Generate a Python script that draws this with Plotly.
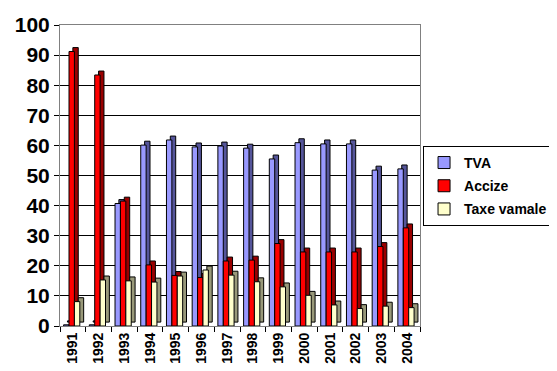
import plotly.graph_objects as go

years = ["1991", "1992", "1993", "1994", "1995", "1996", "1997", "1998",
         "1999", "2000", "2001", "2002", "2003", "2004"]
tva = [0.4, 0.4, 40.7, 60.1, 61.8, 59.5, 59.8, 59.1, 55.5, 60.9, 60.5, 60.5, 51.8, 52.2]
accize = [91.2, 83.4, 41.5, 20.3, 16.8, 16.1, 21.6, 21.9, 27.4, 24.6, 24.6, 24.6, 26.4, 32.6]
taxe = [8.1, 15.3, 15.0, 14.6, 16.6, 18.6, 16.9, 14.7, 13.0, 10.2, 7.0, 5.8, 6.6, 6.1]

names = ["TVA", "Accize", "Taxe vamale"]
front_colors = ["#9999FF", "#FF0000", "#FFFFCC"]
side_colors = ["#55559A", "#990000", "#99997A"]
series = [tva, accize, taxe]

bw = 0.21
offsets = [-0.36, -0.15, 0.06]
dx = 0.15
dy = 1.3

fig = go.Figure()
for vals, name, fc, sc, off in zip(series, names, front_colors, side_colors, offsets):
    fig.add_trace(go.Bar(
        x=years, y=vals, base=dy, width=bw, offset=off + dx,
        marker=dict(color=sc, line=dict(color="black", width=1)),
        showlegend=False, hoverinfo="skip"))
    fig.add_trace(go.Bar(
        x=years, y=vals, name=name, width=bw, offset=off, legendgroup=name,
        marker=dict(color=fc, line=dict(color="black", width=1))))

# page has an 8px body margin, so the figure is drawn 8px in from the top-left
fig.update_layout(
    barmode="overlay",
    width=549, height=363,
    margin=dict(l=52, r=137, t=17, b=45),
    paper_bgcolor="white", plot_bgcolor="white",
    font=dict(family="Liberation Sans", color="black"),
    showlegend=True,
    legend=dict(
        xref="container", yref="container",
        x=0.756, y=0.62, xanchor="left", yanchor="top",
        bordercolor="black", borderwidth=1,
        font=dict(size=14, family="Liberation Sans", weight="bold"),
        itemwidth=30, tracegroupgap=2,
    ),
    xaxis=dict(
        type="category",
        automargin=False,
        tickangle=-90,
        tickfont=dict(size=14, family="Liberation Sans", weight="bold"),
        ticks="outside", tickson="boundaries", ticklen=5, tickcolor="black",
        showline=True, linecolor="#808080", mirror=True,
        showgrid=False,
        range=[-0.5, 13.5],
    ),
    yaxis=dict(
        automargin=False,
        range=[0, 100], dtick=10,
        tickfont=dict(size=21, family="Liberation Sans", weight="bold"),
        ticks="outside", ticklen=5, tickcolor="black",
        showline=True, linecolor="#808080", mirror=True,
        showgrid=True, gridcolor="black", gridwidth=1,
        zeroline=False,
    ),
)

fig.write_html("out.html")
